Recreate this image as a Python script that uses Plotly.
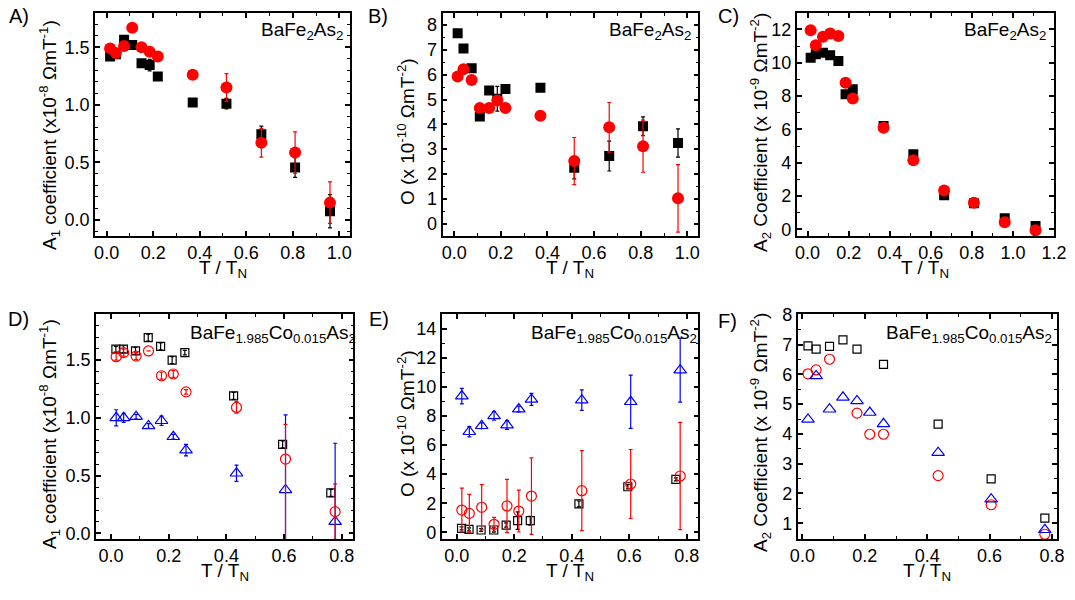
import plotly.graph_objects as go

# ---------------- data ----------------
# BaFe2As2 (panels A-C)
t_par = [0.015, 0.04, 0.075, 0.11, 0.15, 0.185, 0.22, 0.37, 0.515, 0.665, 0.81, 0.96]
t_par_c = [0.015, 0.04, 0.075, 0.11, 0.15, 0.185, 0.22, 0.37, 0.515, 0.665, 0.81, 0.96, 1.11]

A_blk = [1.42, 1.44, 1.565, 1.52, 1.36, 1.345, 1.245, 1.02, 1.01, 0.745, 0.455, 0.075]
A_blk_err = [0, 0, 0, 0, 0.02, 0.05, 0, 0, 0.045, 0.07, 0.085, 0.145]
A_red = [1.49, 1.45, 1.51, 1.67, 1.50, 1.46, 1.42, 1.26, 1.15, 0.67, 0.585, 0.15]
A_red_err = [0, 0, 0, 0, 0, 0, 0, 0, 0.12, 0.125, 0.18, 0.18]

B_blk = [7.67, 7.06, 6.26, 4.32, 5.36, 5.03, 5.42, 5.48, 2.25, 2.72, 3.92, 3.25]
B_blk_err = [0, 0, 0, 0, 0, 0.5, 0, 0, 0.45, 0.6, 0.38, 0.57]
B_red = [5.93, 6.22, 5.79, 4.66, 4.66, 4.96, 4.66, 4.35, 2.52, 3.88, 3.12, 1.02]
B_red_err = [0, 0, 0, 0, 0, 0, 0, 0, 0.95, 1.0, 1.05, 1.36]

C_blk = [10.3, 10.5, 10.6, 10.45, 10.1, 8.1, 8.4, 6.2, 4.5, 2.05, 1.56, 0.66, 0.2]
C_red = [11.95, 11.05, 11.55, 11.75, 11.6, 8.8, 7.85, 6.1, 4.15, 2.33, 1.6, 0.42, -0.05]

# BaFe1.985Co0.015As2 (panels D-F)
t_co = [0.018, 0.044, 0.087, 0.13, 0.175, 0.216, 0.26, 0.435, 0.605, 0.777]
t_co_sq = [0.017, 0.043, 0.085, 0.129, 0.172, 0.212, 0.256, 0.425, 0.595, 0.762]

D_sq = [1.595, 1.595, 1.58, 1.695, 1.62, 1.50, 1.565, 1.19, 0.77, 0.35]
D_sq_err = [0.025, 0.03, 0.03, 0.03, 0.03, 0.03, 0.02, 0.03, 0.03, 0.03]
D_ci = [1.53, 1.565, 1.535, 1.58, 1.365, 1.38, 1.225, 1.09, 0.643, 0.187]
D_ci_err = [0.03, 0.03, 0.03, 0.0, 0.03, 0.03, 0.02, 0.05, 0.3, 0.24]
D_ci_errm = [0.03, 0.03, 0.03, 0.0, 0.03, 0.03, 0.02, 0.05, 0.7, 0.24]
D_tri = [1.0, 1.0, 1.01, 0.93, 0.975, 0.836, 0.72, 0.52, 0.375, 0.10]
D_tri_err = [0.07, 0.04, 0.02, 0.02, 0.04, 0.02, 0.05, 0.07, 0.65, 0.68]

E_sq = [0.27, 0.2, 0.16, 0.16, 0.5, 0.8, 0.8, 1.95, 3.13, 3.64]
E_sq_err = [0.1, 0.1, 0.1, 0.15, 0.15, 0.6, 0.3, 0.2, 0.15, 0.1]
E_ci = [1.53, 1.3, 1.72, 0.55, 1.81, 1.46, 2.49, 2.86, 3.32, 3.87]
E_ci_err = [1.5, 1.3, 1.55, 0.48, 1.83, 1.44, 2.63, 2.75, 2.37, 3.68]
E_tri = [9.36, 6.91, 7.32, 8.0, 7.37, 8.47, 9.13, 9.08, 8.97, 11.14]
E_tri_err = [0.53, 0.35, 0.2, 0.3, 0.3, 0.2, 0.41, 0.7, 1.83, 2.2]

F_sq = [6.96, 6.85, 6.94, 7.16, 6.85, None, 6.34, 4.33, 2.49, 1.17]
F_ci = [6.02, 6.15, 6.51, None, 4.70, 3.99, 3.99, 2.60, 1.62, 0.63]
F_tri = [4.49, 5.95, 4.83, 5.23, 5.11, 4.72, 4.34, 3.37, 1.81, 0.78]

# labels
panel_letters = ["A)", "B)", "C)", "D)", "E)", "F)"]
y_titles = [
    "A<sub>1</sub> coefficient (x10<sup>-8</sup> ΩmT<sup>-1</sup>)",
    "O (x 10<sup>-10</sup> ΩmT<sup>-2</sup>)",
    "A<sub>2</sub> Coefficient (x 10<sup>-9</sup> ΩmT<sup>-2</sup>)",
    "A<sub>1</sub> coefficient (x10<sup>-8</sup> ΩmT<sup>-1</sup>)",
    "O (x 10<sup>-10</sup> ΩmT<sup>-2</sup>)",
    "A<sub>2</sub> Coefficient (x 10<sup>-9</sup> ΩmT<sup>-2</sup>)",
]
x_title = "T / T<sub>N</sub>"
sample_top = "BaFe<sub>2</sub>As<sub>2</sub>"
sample_bot = "BaFe<sub>1.985</sub>Co<sub>0.015</sub>As<sub>2</sub>"

# ---------------- figure ----------------
W, H = 1075, 600
FONT = "Liberation Sans, Arial, sans-serif"
RED = "#FF0000"
BLUE = "#0000FF"

fig = go.Figure()


def px_x(p):
    return p / W


def px_y(p):
    return 1 - p / H


# panel frames in pixels: (left, right, top, bottom)
frames = [
    (95, 350, 12.7, 236),
    (442.5, 698.3, 12.7, 236),
    (796.7, 1054, 12.7, 236),
    (96, 353.3, 314, 539),
    (441.7, 698.3, 314, 539),
    (797.7, 1056.7, 314, 539),
]
xranges = [[-0.05, 1.046], [-0.05, 1.047], [-0.053, 1.2], [-0.052, 0.84], [-0.052, 0.84], [-0.015, 0.815]]
yranges = [[-0.14, 1.8], [-0.5, 8.5], [-0.4, 13.0], [-0.05, 1.9], [-0.46, 15.0], [0.47, 8.03]]
xdt = [(0.2, 0.1), (0.2, 0.1), (0.2, 0.1), (0.2, 0.1), (0.2, 0.1), (0.2, 0.1)]
ydt = [(0.5, 0.1), (1, 0.5), (2, 1), (0.5, 0.1), (2, 1), (1, 0.5)]
yfmt = [".1f", "d", "d", ".1f", "d", "d"]

layout = dict(
    width=W, height=H, margin=dict(l=0, r=0, t=0, b=0, autoexpand=False),
    paper_bgcolor="white", plot_bgcolor="white", showlegend=False,
    font=dict(family=FONT, size=18, color="black"),
)


def axis(domain, rng, dt, fmt, anchor):
    return dict(
        domain=domain, range=rng, dtick=dt[0], tick0=0, tickformat=fmt,
        ticks="inside", ticklen=5, tickwidth=1.5, tickcolor="black",
        showline=True, linewidth=1.6, linecolor="black", mirror="allticks",
        showgrid=False, zeroline=False, anchor=anchor, automargin=False,
        tickfont=dict(family=FONT, size=18, color="black"),
        minor=dict(dtick=dt[1], ticks="inside", ticklen=3, tickwidth=1.3,
                   tickcolor="black", showgrid=False),
    )


for i, (l, r, t, b) in enumerate(frames):
    k = "" if i == 0 else str(i + 1)
    layout["xaxis" + k] = axis([px_x(l), px_x(r)], xranges[i], xdt[i], ".1f", "y" + k)
    layout["yaxis" + k] = axis([px_y(b), px_y(t)], yranges[i], ydt[i], yfmt[i], "x" + k)


def add(i, x, y, sym, size, color, err=None, errm=None, fill=True, lw=1.2):
    k = "" if i == 0 else str(i + 1)
    marker = dict(symbol=sym, size=size, color=color)
    if not fill:
        marker["line"] = dict(color=color, width=lw)
    else:
        marker["line"] = dict(width=0)
    tr = dict(x=x, y=y, mode="markers", marker=marker, xaxis="x" + k, yaxis="y" + k,
              cliponaxis=True)
    if err is not None:
        e = dict(type="data", array=err, color=color, thickness=1.2, width=2, visible=True)
        if errm is not None:
            e["symmetric"] = False
            e["arrayminus"] = errm
        tr["error_y"] = e
    fig.add_trace(go.Scatter(**tr))


# A
add(0, t_par, A_blk, "square", 10, "black", A_blk_err)
add(0, t_par, A_red, "circle", 12, RED, A_red_err)
# B
add(1, t_par, B_blk, "square", 10, "black", B_blk_err)
add(1, t_par, B_red, "circle", 12, RED, B_red_err)
# C
add(2, t_par_c, C_blk, "square", 10, "black")
add(2, t_par_c, C_red, "circle", 12, RED)
# D
add(3, t_co_sq, D_sq, "square-open", 8, "black", D_sq_err, fill=False)
add(3, t_co, D_tri, "triangle-up-open", 11, BLUE, D_tri_err, fill=False)
add(3, t_co, D_ci, "circle-open", 10, RED, D_ci_err, D_ci_errm, fill=False)
# E
add(4, t_co_sq, E_sq, "square-open", 8, "black", E_sq_err, fill=False)
add(4, t_co, E_ci, "circle-open", 10, RED, E_ci_err, fill=False)
add(4, t_co, E_tri, "triangle-up-open", 11, BLUE, E_tri_err, fill=False)
# F
add(5, t_co, F_sq, "square-open", 8, "black", fill=False)
add(5, t_co, F_ci, "circle-open", 10, RED, fill=False)
add(5, t_co, F_tri, "triangle-up-open", 11, BLUE, fill=False)

ann = []
# panel letters
letter_pos = [(7, 3), (366, 3), (716, 3), (6, 306), (367, 306), (716, 308)]
for s, (x, y) in zip(panel_letters, letter_pos):
    ann.append(dict(text=s, x=px_x(x), y=px_y(y), xref="paper", yref="paper",
                    xanchor="left", yanchor="top", showarrow=False,
                    font=dict(family=FONT, size=20, color="black")))
# y titles
ytitle_pos = [(49, 135), (406, 132), (760, 133), (49, 434), (406, 424), (760, 433)]
for s, (x, y) in zip(y_titles, ytitle_pos):
    ann.append(dict(text=s, x=px_x(x), y=px_y(y), xref="paper", yref="paper",
                    xanchor="center", yanchor="middle", textangle=-90, showarrow=False,
                    font=dict(family=FONT, size=19, color="black")))
# x titles
for i, (l, r, t, b) in enumerate(frames):
    ann.append(dict(text=x_title, x=px_x((l + r) / 2), y=px_y(b + 19), xref="paper", yref="paper",
                    xanchor="center", yanchor="top", showarrow=False,
                    font=dict(family=FONT, size=19, color="black")))
# sample names
samp_pos = [(345, 17, sample_top), (693, 17, sample_top), (1048, 17, sample_top),
            (358, 320, sample_bot), (699, 320, sample_bot), (1054, 320, sample_bot)]
for x, y, s in samp_pos:
    ann.append(dict(text=s, x=px_x(x), y=px_y(y), xref="paper", yref="paper",
                    xanchor="right", yanchor="top", showarrow=False,
                    font=dict(family=FONT, size=19, color="black")))

layout["annotations"] = ann
fig.update_layout(**layout)
fig.write_html("out.html", config={"displayModeBar": False},
               post_script="document.body.style.margin='0';document.body.style.overflow='hidden';")
